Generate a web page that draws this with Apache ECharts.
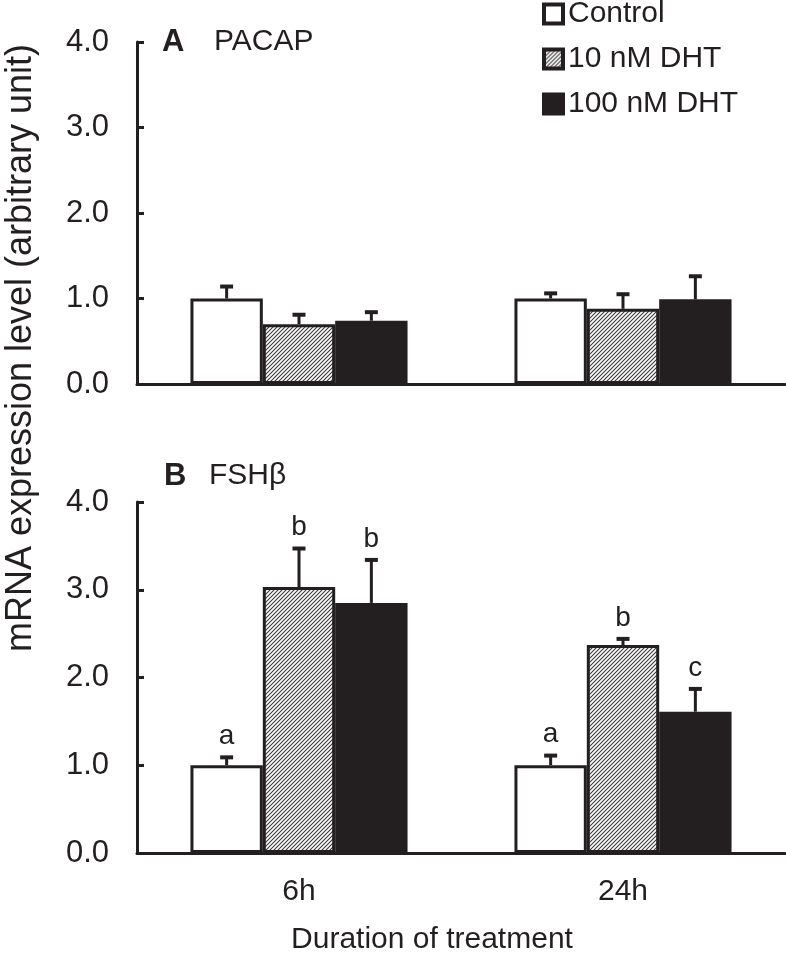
<!DOCTYPE html>
<html>
<head>
<meta charset="utf-8">
<script src="https://cdn.jsdelivr.net/npm/echarts@6/dist/echarts.min.js"></script>
<style>
html,body{margin:0;padding:0;background:#fff;}
#chart{width:786px;height:963px;}
</style>
</head>
<body>
<div id="chart"></div>
<script>
// ---- data ----
const categories = ['6h', '24h'];
const seriesNames = ['Control', '10 nM DHT', '100 nM DHT'];
const yTicks = [0, 1, 2, 3, 4];

const pacapControl = [1.00, 1.00];
const pacapDHT10 = [0.70, 0.88];
const pacapDHT100 = [0.74, 0.99];
const pacapControlErr = [0.14, 0.06];
const pacapDHT10Err = [0.11, 0.17];
const pacapDHT100Err = [0.10, 0.27];

const fshControl = [1.00, 1.00];
const fshDHT10 = [3.03, 2.37];
const fshDHT100 = [2.85, 1.61];
const fshControlErr = [0.09, 0.11];
const fshDHT10Err = [0.44, 0.07];
const fshDHT100Err = [0.49, 0.26];
const fshControlSig = ['a', 'a'];
const fshDHT10Sig = ['b', 'b'];
const fshDHT100Sig = ['b', 'c'];

// ---- styles ----
const INK = '#231f20';
const FONT = '"Liberation Sans", Arial, sans-serif';

function hatch() {
  const n = 4;
  const c = document.createElement('canvas');
  c.width = n; c.height = n;
  const g = c.getContext('2d');
  g.fillStyle = '#fff';
  g.fillRect(0, 0, n, n);
  g.strokeStyle = '#3a3a3a';
  g.lineWidth = 1.1;
  g.beginPath();
  g.moveTo(0, n); g.lineTo(n, 0);
  g.moveTo(-1, 1); g.lineTo(1, -1);
  g.moveTo(n - 1, n + 1); g.lineTo(n + 1, n - 1);
  g.stroke();
  return c;
}
const fills = ['#ffffff', { image: hatch(), repeat: 'repeat' }, INK];

const CAT_GAP = 0.33;

function barSeries(name, idx, data, axisIdx) {
  return {
    name: name,
    type: 'bar',
    xAxisIndex: axisIdx,
    yAxisIndex: axisIdx,
    data: data,
    barGap: '0%',
    barCategoryGap: (CAT_GAP * 100) + '%',
    itemStyle: { color: fills[idx], borderColor: INK, borderWidth: 3 },
    emphasis: { disabled: true },
    z: 2
  };
}

function errSeries(idx, means, errs, sig, axisIdx) {
  const data = means.map((m, i) => [i, m, errs[i], sig ? sig[i] : '']);
  return {
    type: 'custom',
    xAxisIndex: axisIdx,
    yAxisIndex: axisIdx,
    data: data,
    z: 5,
    silent: true,
    renderItem: function (params, api) {
      const base = api.coord([api.value(0), api.value(1)]);
      const top = api.coord([api.value(0), api.value(1) + api.value(2)]);
      const band = api.size([1, 0])[0];
      const bw = band * (1 - CAT_GAP) / 3;
      const x = base[0] + (idx - 1) * bw;
      const children = [
        { type: 'line', shape: { x1: x, y1: base[1], x2: x, y2: top[1] },
          style: { stroke: INK, lineWidth: 3 } },
        { type: 'line', shape: { x1: x - 6.5, y1: top[1], x2: x + 6.5, y2: top[1] },
          style: { stroke: INK, lineWidth: 4 } }
      ];
      const letter = data[params.dataIndex][3];
      if (letter) {
        children.push({ type: 'text', x: x, y: top[1] - 7,
          style: { text: letter, fill: INK, font: '28px ' + FONT, align: 'center', verticalAlign: 'bottom' } });
      }
      return { type: 'group', children: children };
    }
  };
}

function yAxis(gi) {
  return {
    type: 'value', gridIndex: gi, min: 0, max: 4, interval: 1,
    axisLine: { show: true, lineStyle: { color: INK, width: 3 } },
    axisTick: { show: true, inside: true, length: 7, lineStyle: { color: INK, width: 3 } },
    splitLine: { show: false },
    axisLabel: { margin: 28, color: INK, fontSize: 31, fontFamily: FONT,
      formatter: v => yTicks.indexOf(v) >= 0 ? v.toFixed(1) : '' }
  };
}
function xAxis(gi, showLabels) {
  return {
    type: 'category', gridIndex: gi, data: categories,
    axisLine: { show: true, lineStyle: { color: INK, width: 3 } },
    axisTick: { show: false },
    axisLabel: { show: showLabels, margin: 24, color: INK, fontSize: 30, fontFamily: FONT }
  };
}

const chart = echarts.init(document.getElementById('chart'), null, { renderer: 'canvas' });
chart.setOption({
  animation: false,
  backgroundColor: '#fff',
  grid: [
    { left: 137, right: 1, top: 42, height: 342 },
    { left: 137, right: 1, top: 502, height: 351 }
  ],
  xAxis: [xAxis(0, false), xAxis(1, true)],
  yAxis: [yAxis(0), yAxis(1)],
  legend: {
    orient: 'vertical', left: 537, top: -6,
    icon: 'rect',
    itemWidth: 19, itemHeight: 19, itemGap: 15,
    data: seriesNames,
    textStyle: { color: INK, fontSize: 30, lineHeight: 28, fontFamily: FONT },
    itemStyle: { borderColor: INK, borderWidth: 4 },
    selectedMode: false
  },
  graphic: [
    { type: 'text', x: 21, y: 348, rotation: Math.PI / 2,
      style: { text: 'mRNA expression level (arbitrary unit)', fill: INK, font: '36px ' + FONT, align: 'center', verticalAlign: 'middle' } },
    { type: 'text', x: 162, y: 42,
      style: { text: 'A', fill: INK, font: 'bold 31px ' + FONT, align: 'left', verticalAlign: 'middle' } },
    { type: 'text', x: 214, y: 42,
      style: { text: 'PACAP', fill: INK, font: '30px ' + FONT, align: 'left', verticalAlign: 'middle' } },
    { type: 'text', x: 164, y: 476,
      style: { text: 'B', fill: INK, font: 'bold 31px ' + FONT, align: 'left', verticalAlign: 'middle' } },
    { type: 'text', x: 209, y: 476,
      style: { text: 'FSHβ', fill: INK, font: '30px ' + FONT, align: 'left', verticalAlign: 'middle' } },
    { type: 'text', x: 432, y: 940,
      style: { text: 'Duration of treatment', fill: INK, font: '30px ' + FONT, align: 'center', verticalAlign: 'middle' } }
  ],
  series: [
    barSeries(seriesNames[0], 0, pacapControl, 0),
    barSeries(seriesNames[1], 1, pacapDHT10, 0),
    barSeries(seriesNames[2], 2, pacapDHT100, 0),
    barSeries(seriesNames[0], 0, fshControl, 1),
    barSeries(seriesNames[1], 1, fshDHT10, 1),
    barSeries(seriesNames[2], 2, fshDHT100, 1),
    errSeries(0, pacapControl, pacapControlErr, null, 0),
    errSeries(1, pacapDHT10, pacapDHT10Err, null, 0),
    errSeries(2, pacapDHT100, pacapDHT100Err, null, 0),
    errSeries(0, fshControl, fshControlErr, fshControlSig, 1),
    errSeries(1, fshDHT10, fshDHT10Err, fshDHT10Sig, 1),
    errSeries(2, fshDHT100, fshDHT100Err, fshDHT100Sig, 1)
  ]
});
</script>
</body>
</html>
